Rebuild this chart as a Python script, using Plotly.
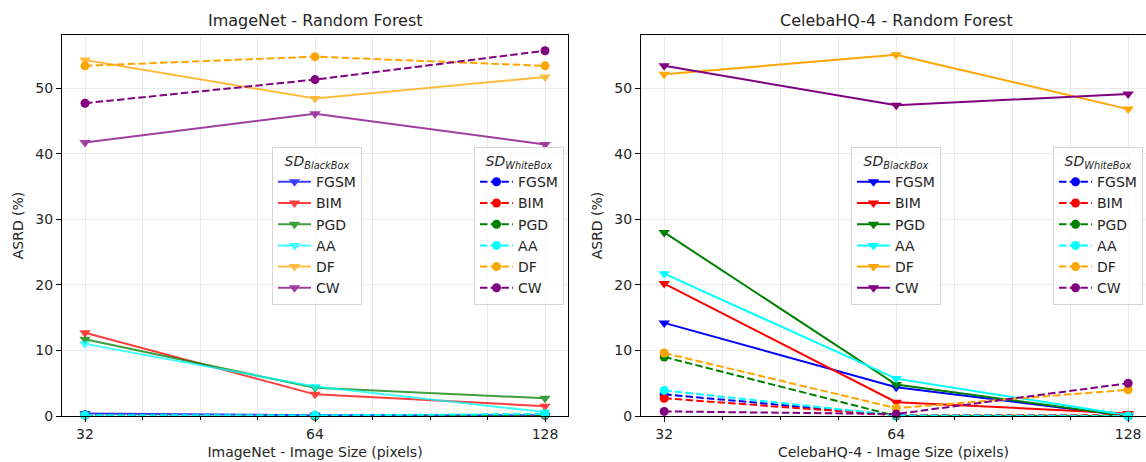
import numpy as np
import plotly.graph_objects as go

sizes = [32, 64, 128]
attacks = ["FGSM", "BIM", "PGD", "AA", "DF", "CW"]
colors = ["blue", "red", "green", "cyan", "orange", "purple"]

# ImageNet - Random Forest
imagenet_black = {
    "FGSM": [0.4, 0.1, 0.1],
    "BIM": [12.7, 3.3, 1.5],
    "PGD": [11.7, 4.3, 2.7],
    "AA": [11.0, 4.5, 0.6],
    "DF": [54.3, 48.4, 51.7],
    "CW": [41.7, 46.1, 41.4],
}
imagenet_white = {
    "FGSM": [0.2, 0.1, 0.2],
    "BIM": [0.1, 0.0, 0.1],
    "PGD": [0.1, 0.0, 0.2],
    "AA": [0.1, 0.1, 0.3],
    "DF": [53.4, 54.8, 53.4],
    "CW": [47.7, 51.3, 55.7],
}
# CelebaHQ-4 - Random Forest
celeba_black = {
    "FGSM": [14.2, 4.4, 0.0],
    "BIM": [20.2, 2.1, 0.4],
    "PGD": [28.0, 4.8, 0.0],
    "AA": [21.7, 5.7, 0.1],
    "DF": [52.1, 55.1, 46.8],
    "CW": [53.4, 47.4, 49.1],
}
celeba_white = {
    "FGSM": [3.3, 0.1, 0.0],
    "BIM": [2.7, 0.1, 0.1],
    "PGD": [9.0, 0.0, 0.0],
    "AA": [3.9, 0.1, 0.0],
    "DF": [9.6, 1.2, 4.0],
    "CW": [0.7, 0.3, 5.0],
}

titles = ["ImageNet - Random Forest", "CelebaHQ-4 - Random Forest"]
xlabels = ["ImageNet - Image Size (pixels)", "CelebaHQ-4 - Image Size (pixels)"]

W, H = 1146, 462
ml, mr, mt, mb = 62, 0, 35, 46
pw = W - ml - mr
ph = H - mt - mb

def px2x(p):
    return (p - ml) / pw

def px2y(p):
    return (H - mb - p) / ph

fig = go.Figure()
TXT = "#262626"
FONT = "DejaVu Sans"
dash = "7.5px,3.2px"

panels = [
    (imagenet_black, imagenet_white, "x", "y", "legend", "legend2", 0.75),
    (celeba_black, celeba_white, "x2", "y2", "legend3", "legend4", 1.0),
]
for bb, wb, xa, ya, lg1, lg2, op in panels:
    for a, c in zip(attacks, colors):
        fig.add_trace(go.Scatter(
            x=sizes, y=bb[a], mode="lines+markers", name=a,
            line=dict(color=c, width=2),
            marker=dict(symbol="triangle-down", size=10, color=c, line=dict(width=0)),
            opacity=op, xaxis=xa, yaxis=ya, legend=lg1, cliponaxis=False,
        ))
    for a, c in zip(attacks, colors):
        fig.add_trace(go.Scatter(
            x=sizes, y=wb[a], mode="lines+markers", name=a,
            line=dict(color=c, width=2, dash=dash),
            marker=dict(symbol="circle", size=9, color=c, line=dict(width=0)),
            xaxis=xa, yaxis=ya, legend=lg2, cliponaxis=False,
        ))

minor_vals = [2 ** e for e in [5.25, 5.5, 5.75, 6.25, 6.5, 6.75]]
l2 = np.log10(2)

def xaxis_def(domain, rng_hi, title, anchor):
    return dict(
        type="log", domain=domain, anchor=anchor,
        range=[np.log10(32) - 0.1 * l2, np.log10(128) + rng_hi * l2],
        tickvals=sizes, ticktext=[str(s) for s in sizes],
        ticks="outside", ticklen=5, tickcolor="black", tickwidth=1,
        showline=True, linecolor="black", linewidth=1, mirror=True,
        showgrid=True, gridcolor="#ebebeb", gridwidth=1,
        minor=dict(tickvals=minor_vals, ticks="outside", ticklen=3,
                   tickcolor="black", showgrid=True, gridcolor="#ebebeb"),
        zeroline=False,
        tickfont=dict(size=14, color=TXT, family=FONT),
        title=dict(text=title, font=dict(size=14, color=TXT, family=FONT), standoff=6),
    )

def yaxis_def(anchor, mirror):
    return dict(
        anchor=anchor, domain=[0, 1], range=[0, 58.1], dtick=10,
        ticks="outside", ticklen=5, tickcolor="black", tickwidth=1,
        showline=True, linecolor="black", linewidth=1, mirror=mirror,
        showgrid=True, gridcolor="#ebebeb", gridwidth=1, zeroline=False,
        tickfont=dict(size=14, color=TXT, family=FONT),
        title=dict(text="ASRD (%)", font=dict(size=14, color=TXT, family=FONT), standoff=8),
    )

d1 = [0, px2x(568)]
d2 = [px2x(641), 1]
fig.update_layout(
    xaxis=xaxis_def(d1, 0.1, xlabels[0], "y"),
    xaxis2=xaxis_def(d2, 0.077, xlabels[1], "y2"),
    yaxis=yaxis_def("x", True),
    yaxis2=yaxis_def("x2", False),
)

def legend_def(xpx, title):
    return dict(
        x=px2x(xpx), y=px2y(147), xanchor="left", yanchor="top",
        xref="paper", yref="paper",
        bgcolor="rgba(255,255,255,0.8)", bordercolor="#d6d6d6", borderwidth=1,
        font=dict(size=14, color=TXT, family=FONT),
        title=dict(text=title, side="top center", font=dict(size=14, color=TXT, family=FONT)),
        tracegroupgap=0, itemwidth=33, entrywidth=88, entrywidthmode="pixels",
    )

tb = "<i>SD</i><sub><i>BlackBox</i></sub>"
tw = "<i>SD</i><sub><i>WhiteBox</i></sub>"
fig.update_layout(
    legend=legend_def(272, tb),
    legend2=legend_def(474, tw),
    legend3=legend_def(851, tb),
    legend4=legend_def(1053, tw),
)

for t, d in zip(titles, [d1, d2]):
    fig.add_annotation(
        text=t, x=(d[0] + (px2x(1151) if d is d2 else d[1])) / 2, y=px2y(20),
        xref="paper", yref="paper", showarrow=False,
        xanchor="center", yanchor="middle",
        font=dict(size=16, color=TXT, family=FONT),
    )

fig.update_layout(
    width=W, height=H, margin=dict(l=ml, r=mr, t=mt, b=mb),
    paper_bgcolor="white", plot_bgcolor="white",
    font=dict(family=FONT, color=TXT),
)
fig.write_html("out.html")
